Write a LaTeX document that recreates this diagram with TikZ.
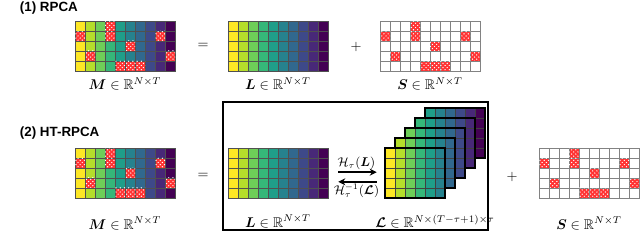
\documentclass[tikz,border=0pt]{standalone}
\usepackage{amsmath,amssymb}
\usepackage{bm}
\usepackage{fontspec}
\newfontfamily\headfont{Liberation Sans}
\usetikzlibrary{arrows.meta,positioning,patterns}
\definecolor{vir1}{HTML}{FDE725}
\definecolor{vir2}{HTML}{B5DE2B}
\definecolor{vir3}{HTML}{6ECE58}
\definecolor{vir4}{HTML}{35B779}
\definecolor{vir5}{HTML}{1F9E89}
\definecolor{vir6}{HTML}{26828E}
\definecolor{vir7}{HTML}{31688E}
\definecolor{vir8}{HTML}{3E4989}
\definecolor{vir9}{HTML}{482878}
\definecolor{vir10}{HTML}{440154}
\definecolor{gridgray}{RGB}{80,80,80}
\definecolor{sgray}{RGB}{130,130,130}

% heat map cells: top-left x, top-left y, first colour, number of columns, grid colour
\newcommand{\vircells}[5]{%
  \foreach \c in {1,...,#4}{%
    \pgfmathtruncatemacro{\vc}{#3+\c-1}%
    \foreach \r in {0,...,4}{%
      \draw[cell, draw=#5, fill=vir\vc] ({#1+10*(\c-1)},{#2+10*\r}) rectangle ++(10,10);}}}
% sparse outliers: top-left x, top-left y, grid colour
\newcommand{\outliers}[3]{%
  \foreach \c/\r in {4/1,1/2,4/2,9/2,6/3,2/4,10/4,5/5,6/5,7/5}
    \draw[outcell, draw=#3] ({#1+10*(\c-1)},{#2+10*(\r-1)}) rectangle ++(10,10);}
% empty grid
\newcommand{\emptycells}[2]{%
  \foreach \c in {0,...,9}
    \foreach \r in {0,...,4}
      \draw[scell] ({#1+10*\c},{#2+10*\r}) rectangle ++(10,10);}

\begin{document}
\begin{tikzpicture}[x=0.025cm, y=-0.025cm,
    matbox/.style={rectangle, inner sep=0pt, minimum width=2.5cm, minimum height=1.25cm},
    cell/.style={line width=0.5pt},
    scell/.style={draw=sgray, fill=white, line width=0.5pt},
    outcell/.style={line width=0.5pt, fill=red!80, postaction={pattern=crosshatch dots, pattern color=white}},
    layer/.style={draw=black, line width=0.9pt},
    hbox/.style={rectangle, draw=black, line width=1.2pt, minimum width=6.625cm, minimum height=3.2cm},
    hmap/.style={-{Stealth[length=5pt,width=5pt]}, line width=1.2pt},
    hlabel/.style={font=\small, inner sep=1pt},
    head/.style={font=\headfont\bfseries\fontsize{9.5}{11}\selectfont, anchor=west},
    op/.style={font=\normalsize}
]
\useasboundingbox (0,0) rectangle (640,249);

% (1) RPCA
\node[head] (head1) at (15,8) {(1) RPCA};

\vircells{75}{21}{1}{10}{gridgray}
\outliers{75}{21}{gridgray}
\node[matbox] (M1) at (125,46) {};
\node[below=1pt of M1] (M1lab) {$\bm{M}\in\mathbb{R}^{N\times T}$};

\node[op] (eq1) at (203,46) {$=$};

\vircells{228}{21}{1}{10}{gridgray}
\node[matbox] (L1) at (278,46) {};
\node[below=1pt of L1] (L1lab) {$\bm{L}\in\mathbb{R}^{N\times T}$};

\node[op] (plus1) at (356,47) {$+$};

\emptycells{380}{21}
\outliers{380}{21}{sgray}
\node[matbox] (S1) at (430,46) {};
\node[below=1pt of S1] (S1lab) {$\bm{S}\in\mathbb{R}^{N\times T}$};

% (2) HT-RPCA
\node[head] (head2) at (15,133) {(2) HT-RPCA};

\vircells{75}{148}{1}{10}{gridgray}
\outliers{75}{148}{gridgray}
\node[matbox] (M2) at (125,173) {};
\node[below=0.35cm of M2] (M2lab) {$\bm{M}\in\mathbb{R}^{N\times T}$};

\node[op] (eq2) at (203,176) {$=$};

\node[hbox] (hank) at (355.5,166) {};

\vircells{228}{148}{1}{10}{gridgray}
\node[matbox] (L2) at (278,173) {};
\node[below=0.3cm of L2] (L2lab) {$\bm{L}\in\mathbb{R}^{N\times T}$};

% Hankel tensor slices, back to front
\foreach \s in {4,3,2,1,0}{
  \vircells{385+10*\s}{148-10*\s}{\s+1}{6}{black!75}
  \draw[layer] ({385+10*\s},{148-10*\s}) rectangle ++(60,50);
}
\node[rectangle, inner sep=0pt, minimum width=2.5cm, minimum height=2.25cm] (stack) at (435,153) {};
\node[below=0.3cm of stack.south] (stacklab) {$\bm{\mathcal{L}}\in\mathbb{R}^{N\times(T-\tau+1)\times\tau}$};

\draw[hmap, shorten <=0.25cm, shorten >=0.2cm] ([yshift=0.02cm]L2.east) -- ([yshift=0.02cm]L2.east -| stack.west)
    node[midway, above, hlabel] {$\mathcal{H}_\tau(\bm{L})$};
\draw[hmap, shorten <=0.2cm, shorten >=0.25cm] ([yshift=-0.22cm]L2.east -| stack.west) -- ([yshift=-0.22cm]L2.east)
    node[midway, below, hlabel] {$\mathcal{H}_\tau^{-1}(\bm{\mathcal{L}})$};

\node[op] (plus2) at (512,177) {$+$};

\emptycells{539}{148}
\outliers{539}{148}{sgray}
\node[matbox] (S2) at (589,173) {};
\node[below=0.35cm of S2] (S2lab) {$\bm{S}\in\mathbb{R}^{N\times T}$};

\end{tikzpicture}
\end{document}
